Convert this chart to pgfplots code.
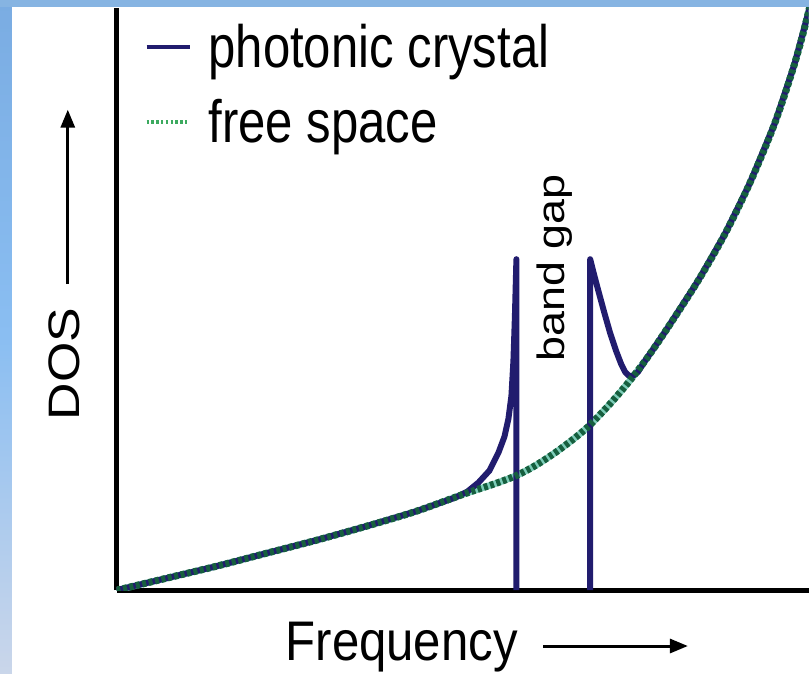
\documentclass[border=0pt]{standalone}
\usepackage{fontspec}
\setmainfont{Liberation Sans}
\usepackage{graphicx}
\usepackage{pgfplots}
\pgfplotsset{compat=1.18}
\usetikzlibrary{arrows.meta}
\definecolor{navy}{RGB}{33,28,110}
\definecolor{fsgreen}{RGB}{22,95,62}
\definecolor{fsgap}{RGB}{125,205,185}
\definecolor{legreen}{RGB}{60,170,95}
\definecolor{frameA}{RGB}{122,172,226}
\definecolor{frameB}{RGB}{138,190,242}
\definecolor{frameC}{RGB}{202,214,234}
\definecolor{frameT}{RGB}{134,180,226}

\pgfplotstableread{
x y
0 0
50 12
100 24
150 37
200 50
250 64
300 79
350 97
380 107
401 115
420 125
440 138
460 153
475 166
495 187
513 208
530 230
550 259
583 310
610 357
635 408
660 468
680 528
694 580
702 620
}\freespace

\pgfplotstableread{
x y
0 0
50 12
100 24
150 37
200 50
250 64
300 79
340 93
352 99
363 108
374 120
383 138
389 154
393 172
396 195
398 230
399.5 275
401 332
401 0
}\pcleft

\pgfplotstableread{
x y
475 0
475 332
478 320
483 301
489 279
495 258
501 240
506 227
510 219
514 215
518 215
523 219
530 230
550 259
583 310
610 357
635 408
660 468
680 528
694 580
702 620
}\pcright

\begin{document}
\begin{tikzpicture}[x=0.5pt,y=0.5pt]
\fill[white] (0,0) rectangle (811,676);
\begin{axis}[
  at={(58.5pt,42pt)}, anchor=origin,
  scale only axis, width=347pt, height=292pt,
  xmin=0, xmax=694, ymin=0, ymax=584,
  axis lines=left, axis line style={line width=2.5pt,-},
  xtick=\empty, ytick=\empty,
  xlabel={\scalebox{0.88}[1]{Frequency}},
  xlabel style={at={(rel axis cs:0.412,-0.1216)}, anchor=base, font=\fontsize{28}{33}\selectfont, inner sep=0pt},
  ylabel={\scalebox{1}[0.85]{DOS}},
  ylabel style={at={(rel axis cs:-0.0749,0.3887)}, anchor=center, font=\fontsize{26}{31}\selectfont, inner sep=0pt},
  legend style={draw=none, fill=none, at={(0.04,0.98)}, anchor=north west,
    font=\fontsize{30}{36}\selectfont, row sep=10.5pt, inner sep=0pt,
    nodes={inner sep=2pt}},
  legend cell align=left,
  legend image code/.code={\draw[#1] (0pt,0pt) -- (21.5pt,0pt);},
]
\addlegendimage{navy, line width=2pt}
\addlegendentry{\hspace*{6.5pt}\scalebox{0.82}[1]{photonic crystal}}
\addlegendimage{legreen, line width=2pt, dash pattern=on 1.2pt off 1.2pt}
\addlegendentry{\hspace*{6.5pt}\scalebox{0.82}[1]{free space}}
\addplot[forget plot, fsgap, line width=3.3pt, smooth] table {\freespace};
\addplot[forget plot, navy, line width=3pt, line join=round] table {\pcleft};
\addplot[forget plot, navy, line width=3pt, line join=round] table {\pcright};
\addplot[forget plot, fsgreen, line width=3.5pt, dash pattern=on 2pt off 1.3pt, smooth] table {\freespace};
\node[rotate=90, font=\fontsize{22.5}{27}\selectfont] at (axis cs:439,323) {\scalebox{1}[0.85]{band gap}};
\end{axis}
\draw[line width=1.5pt, -{Triangle[length=9pt,width=7pt]}] (68,391) -- (68,566);
\draw[line width=1.5pt, -{Triangle[length=9pt,width=7pt]}] (545,28) -- (690,28);
\shade[top color=frameA, bottom color=frameC, middle color=frameB] (0,0) rectangle (12,676);
\fill[frameT] (0,669) rectangle (811,676);
\end{tikzpicture}
\end{document}
